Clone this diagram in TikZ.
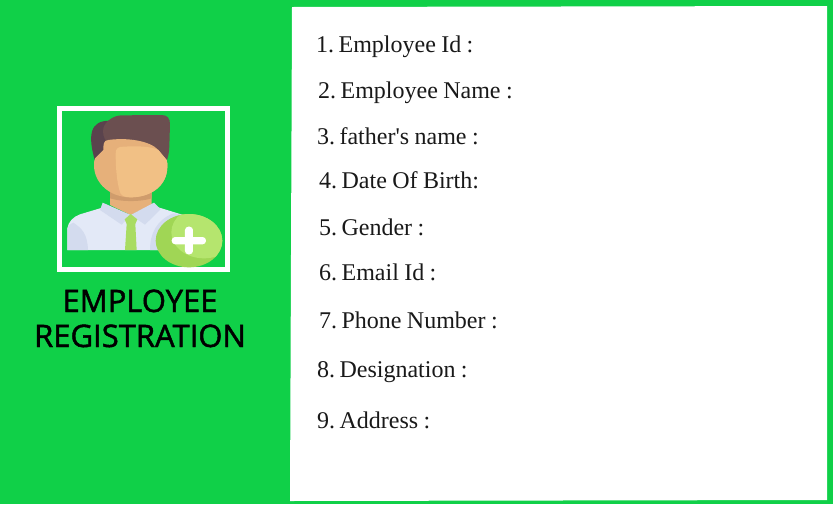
\documentclass[tikz,border=0pt]{standalone}
\usepackage{fontspec}
\newfontfamily\itemfont[WordSpace=0.9]{Liberation Serif}
\newfontfamily\headfont[FakeBold=1.5]{Open Sans}
\definecolor{bgreen}{HTML}{10D048}
\definecolor{hairD}{HTML}{5A434D}
\definecolor{hairL}{HTML}{6B4F50}
\definecolor{skinD}{HTML}{E6B07A}
\definecolor{skinL}{HTML}{F1C085}
\definecolor{neckS}{HTML}{CF9C6C}
\definecolor{shirtL}{HTML}{E3E9F7}
\definecolor{shirtD}{HTML}{D3DBEE}
\definecolor{tieC}{HTML}{A9DC62}
\definecolor{plusD}{HTML}{A0D655}
\definecolor{plusL}{HTML}{B5E56E}
\newcommand{\nsp}{\kern-1pt\ }
\tikzset{
  item/.style={anchor=base west,inner sep=0pt,font=\itemfont\fontsize{24pt}{26pt}\selectfont,text=black!90},
  head/.style={anchor=base,inner sep=0pt,font=\headfont\fontsize{31pt}{33pt}\selectfont,text=black},
  icon/.style={shift={(50,100)},x=0.33333pt,y=-0.33333pt}
}
\begin{document}
\begin{tikzpicture}[x=1pt,y=-1pt]
\useasboundingbox (0,0) rectangle (833,504);
\fill[bgreen] (0,0) rectangle (833,504);
\fill[white] (292,7) -- (827,6) -- (827,500) -- (290,501) -- cycle;
\draw[white,line width=5pt] (59.5,108.5) rectangle (227.5,269.5);
\begin{scope}[icon]
  \fill[hairD] (135,182) .. controls (125,150) and (120,115) .. (126,95) .. controls (132,72) and (150,62) .. (180,62) -- (220,150) -- cycle;
  \fill[hairL] (160,85) .. controls (165,65) and (190,46) .. (215,46) -- (335,45) .. controls (352,45) and (360,55) .. (360,72) -- (358,140) .. controls (357,160) and (354,172) .. (350,182) -- (300,150) -- (170,125) .. controls (160,112) and (158,100) .. (160,85) -- cycle;
  \fill[skinD] (180,260) -- (305,260) -- (305,315) -- (242,345) -- (180,315) -- cycle;
  \fill[neckS] (180,272) -- (305,272) -- (305,295) .. controls (270,306) and (215,306) .. (180,295) -- cycle;
  \fill[shirtL] (52,450) -- (52,385) .. controls (55,365) and (70,350) .. (90,343) -- (160,322) -- (242,345) -- (325,322) -- (400,345) -- (400,450) -- cycle;
  \fill[shirtD] (52,450) -- (52,385) .. controls (55,378) and (60,372) .. (70,368) .. controls (95,385) and (112,400) .. (114,450) -- cycle;
  \fill[shirtD] (300,450) .. controls (300,400) and (320,360) .. (370,340) -- (400,345) -- (400,450) -- cycle;
  \fill[shirtD] (158,308) -- (242,345) -- (215,374) -- (150,330) -- cycle;
  \fill[shirtD] (312,308) -- (242,345) -- (285,374) -- (332,328) -- cycle;
  \fill[tieC] (242,342) -- (262,358) -- (256,372) -- (260,450) -- (225,450) -- (230,372) -- (224,358) -- cycle;
  \fill[skinD] (132,195) .. controls (132,185) and (133,178) .. (136,174) -- (160,150) .. controls (160,135) and (160,120) .. (175,120) .. controls (230,112) and (300,122) .. (325,150) -- (350,180) .. controls (352,186) and (352,192) .. (352,200) .. controls (352,255) and (305,292) .. (242,292) .. controls (180,292) and (132,250) .. (132,195) -- cycle;
  \fill[skinL] (197,160) .. controls (197,145) and (205,140) .. (220,140) .. controls (260,138) and (300,138) .. (325,150) -- (350,180) .. controls (352,186) and (352,192) .. (352,200) .. controls (352,255) and (305,292) .. (242,292) .. controls (225,292) and (210,288) .. (208,270) .. controls (200,240) and (197,200) .. (197,160) -- cycle;
  \fill[plusD] (417,422) ellipse [x radius=100,y radius=80];
  \begin{scope}
    \clip (417,422) ellipse [x radius=100,y radius=80];
    \fill[plusL] (462,397) ellipse [x radius=98,y radius=78];
  \end{scope}
  \fill[white,rounded corners=3.4pt] (365,411) rectangle (468,433);
  \fill[white,rounded corners=3.4pt] (405,380) rectangle (429,463);
\end{scope}
\node[head] (h1) at (140,312) {EMPLOYEE};
\node[head] (h2) at (140,347) {REGISTRATION};
\node[item] (i1) at (316,52) {1.\nsp Employee Id :};
\node[item] (i2) at (318,98) {2.\nsp Employee Name :};
\node[item] (i3) at (317,144) {3.\nsp father's name :};
\node[item] (i4) at (319,188) {4.\nsp Date Of Birth:};
\node[item] (i5) at (319,235) {5.\nsp Gender :};
\node[item] (i6) at (319,280) {6.\nsp Email Id :};
\node[item] (i7) at (319,328) {7.\nsp Phone Number :};
\node[item] (i8) at (317,377) {8.\nsp Designation :};
\node[item] (i9) at (317,428) {9.\nsp Address :};
\end{tikzpicture}
\end{document}
